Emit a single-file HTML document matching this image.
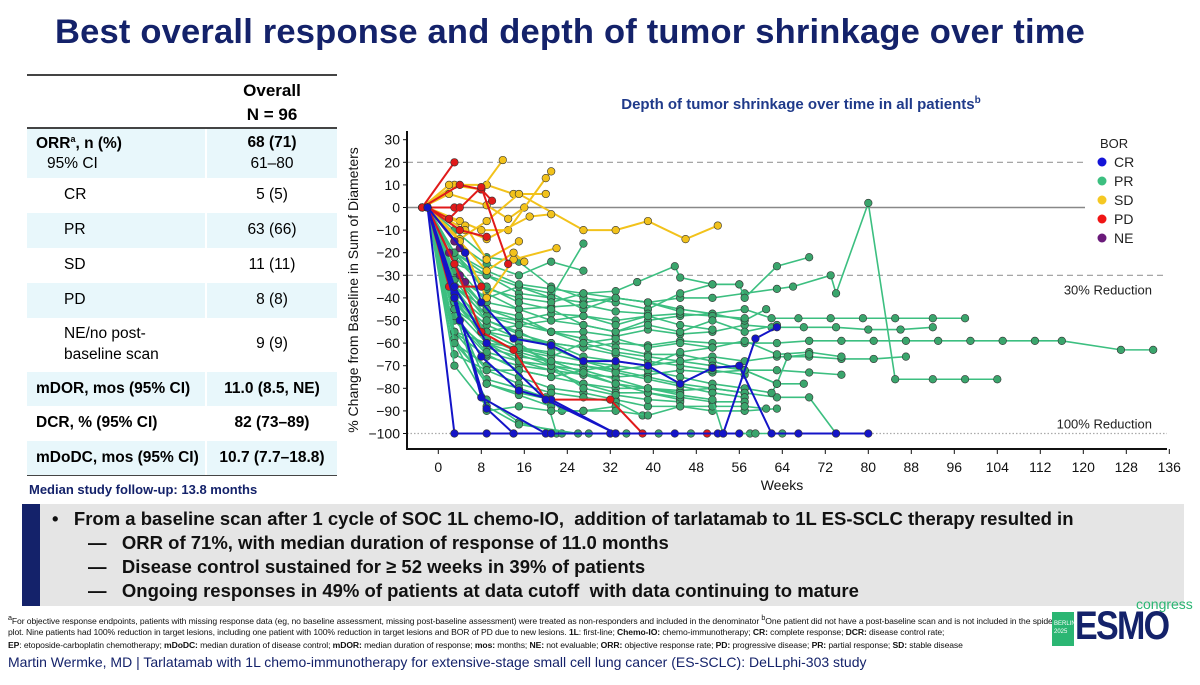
<!DOCTYPE html>
<html><head><meta charset="utf-8">
<style>
*{margin:0;padding:0;box-sizing:border-box}
body{width:1200px;height:685px;background:#fff;font-family:"Liberation Sans",sans-serif;position:relative;overflow:hidden}
.abs{position:absolute}
#title{left:0;width:1140px;top:13px;text-align:center;font-size:34.5px;font-weight:bold;color:#14226a;letter-spacing:0.2px}
#tbl td{padding:0}
.b{background:#e8f7fb}
.rowline{left:27px;width:310px;height:2px;background:#444}
#box{left:22px;top:504px;width:1162px;height:102px;background:#e5e5e5}
#navy{left:22px;top:504px;width:18px;height:102px;background:#14226a}
.bl{font-size:18.5px;font-weight:bold;color:#111;white-space:nowrap}
.fn{font-size:8.6px;color:#111;white-space:nowrap;letter-spacing:-0.1px;font-family:"Liberation Sans Narrow","Liberation Sans",sans-serif}
</style></head><body>
<div id="title" class="abs">Best overall response and depth of tumor shrinkage over time</div>

<div class="abs rowline" style="top:74px"></div>
<div class="abs rowline" style="top:127px"></div>
<div class="abs rowline" style="top:474px"></div>
<div class="abs" style="left:27px;top:76px;width:310px;height:51px;font-weight:bold;font-size:17px;text-align:center">
 <div style="position:absolute;left:180px;width:130px;top:3px;line-height:24px">Overall<br>N = 96</div>
</div>
<div class="abs" style="left:27px;top:129px;width:310px">
 <div class="b" style="position:relative;height:49px">
  <div style="position:absolute;left:9px;top:5px;font-weight:bold;font-size:15.5px">ORR<sup style="font-size:9px">a</sup>, n (%)</div>
  <div style="position:absolute;left:20px;top:26px;font-size:15.5px">95% CI</div>
  <div style="position:absolute;left:178px;width:2px;top:0;bottom:0;background:#fff"></div>
  <div style="position:absolute;left:180px;width:130px;top:5px;text-align:center;font-weight:bold;font-size:15.5px">68 (71)</div>
  <div style="position:absolute;left:180px;width:130px;top:26px;text-align:center;font-size:15.5px">61–80</div>
 </div>
 <div style="position:relative;height:35px"><div style="position:absolute;left:37px;top:8px;font-size:15.5px">CR</div><div style="position:absolute;left:180px;width:130px;top:8px;text-align:center;font-size:15.5px">5 (5)</div></div>
 <div class="b" style="position:relative;height:35px"><div style="position:absolute;left:37px;top:8px;font-size:15.5px">PR</div><div style="position:absolute;left:178px;width:2px;top:0;bottom:0;background:#fff"></div><div style="position:absolute;left:180px;width:130px;top:8px;text-align:center;font-size:15.5px">63 (66)</div></div>
 <div style="position:relative;height:35px"><div style="position:absolute;left:37px;top:8px;font-size:15.5px">SD</div><div style="position:absolute;left:180px;width:130px;top:8px;text-align:center;font-size:15.5px">11 (11)</div></div>
 <div class="b" style="position:relative;height:35px"><div style="position:absolute;left:37px;top:8px;font-size:15.5px">PD</div><div style="position:absolute;left:178px;width:2px;top:0;bottom:0;background:#fff"></div><div style="position:absolute;left:180px;width:130px;top:8px;text-align:center;font-size:15.5px">8 (8)</div></div>
 <div style="position:relative;height:54px"><div style="position:absolute;left:37px;top:5px;font-size:15.5px;line-height:21px">NE/no post-<br>baseline scan</div><div style="position:absolute;left:180px;width:130px;top:17px;text-align:center;font-size:15.5px">9 (9)</div></div>
 <div class="b" style="position:relative;height:34px"><div style="position:absolute;left:9px;top:8px;font-weight:bold;font-size:15.5px">mDOR, mos (95% CI)</div><div style="position:absolute;left:178px;width:2px;top:0;bottom:0;background:#fff"></div><div style="position:absolute;left:180px;width:130px;top:8px;text-align:center;font-weight:bold;font-size:15.5px">11.0 (8.5, NE)</div></div>
 <div style="position:relative;height:35px"><div style="position:absolute;left:9px;top:8px;font-weight:bold;font-size:15.5px">DCR, % (95% CI)</div><div style="position:absolute;left:180px;width:130px;top:8px;text-align:center;font-weight:bold;font-size:15.5px">82 (73–89)</div></div>
 <div class="b" style="position:relative;height:34px"><div style="position:absolute;left:9px;top:8px;font-weight:bold;font-size:15.5px">mDoDC, mos (95% CI)</div><div style="position:absolute;left:178px;width:2px;top:0;bottom:0;background:#fff"></div><div style="position:absolute;left:180px;width:130px;top:8px;text-align:center;font-weight:bold;font-size:15.5px;white-space:nowrap">10.7 (7.7–18.8)</div></div>
</div>
<div class="abs" style="left:29px;top:482px;font-size:13px;font-weight:bold;color:#14226a">Median study follow-up: 13.8 months</div>

<svg class="abs" style="left:0;top:0" width="1200" height="500">
 <text x="801" y="109" text-anchor="middle" font-size="15" font-weight="bold" fill="#1f3a8a" font-family="Liberation Sans">Depth of tumor shrinkage over time in all patients<tspan font-size="10" dy="-6">b</tspan></text>
 <g id="grid"></g>
 <g id="series"></g>
 <g id="axes"></g>
</svg>

<div id="box" class="abs"></div>
<div id="navy" class="abs"></div>
<div class="abs bl" style="left:52px;top:508px">•&nbsp;&nbsp; From a baseline scan after 1 cycle of SOC 1L chemo-IO,&nbsp; addition of tarlatamab to 1L ES-SCLC therapy resulted in</div>
<div class="abs bl" style="left:88px;top:532px">—&nbsp;&nbsp; ORR of 71%, with median duration of response of 11.0 months</div>
<div class="abs bl" style="left:88px;top:556px">—&nbsp;&nbsp; Disease control sustained for ≥ 52 weeks in 39% of patients</div>
<div class="abs bl" style="left:88px;top:580px">—&nbsp;&nbsp; Ongoing responses in 49% of patients at data cutoff&nbsp; with data continuing to mature</div>

<div class="abs fn" style="left:8px;top:614px"><sup>a</sup>For objective response endpoints, patients with missing response data (eg, no baseline assessment, missing post-baseline assessment) were treated as non-responders and included in the denominator <sup>b</sup>One patient did not have a post-baseline scan and is not included in the spider</div>
<div class="abs fn" style="left:8px;top:627px">plot. Nine patients had 100% reduction in target lesions, including one patient with 100% reduction in target lesions and BOR of PD due to new lesions. <b>1L</b>: first-line; <b>Chemo-IO:</b> chemo-immunotherapy; <b>CR:</b> complete response; <b>DCR:</b> disease control rate;</div>
<div class="abs fn" style="left:8px;top:640px"><b>EP</b>: etoposide-carboplatin chemotherapy; <b>mDoDC:</b> median duration of disease control; <b>mDOR:</b> median duration of response; <b>mos:</b> months; <b>NE:</b> not evaluable; <b>ORR:</b> objective response rate; <b>PD:</b> progressive disease; <b>PR:</b> partial response; <b>SD:</b> stable disease</div>
<div class="abs" style="left:8px;top:654px;font-size:14px;color:#14226a;white-space:nowrap">Martin Wermke, MD | Tarlatamab with 1L chemo-immunotherapy for extensive-stage small cell lung cancer (ES-SCLC): DeLLphi-303 study</div>
<div class="abs" style="left:1052px;top:612px;width:22px;height:34px;background:#2bb673;color:#fff;font-size:6px;line-height:8px;padding-top:8px;padding-left:2px">BERLIN<br>2025</div>
<div class="abs" style="left:1075px;top:604px;font-size:40px;font-weight:bold;color:#14226a;letter-spacing:-2px;transform:scaleX(0.85);transform-origin:left">ESMO</div>
<div class="abs" style="left:1136px;top:596px;font-size:14px;color:#2bb673">congress</div>

<script>
const xTicks=[0,8,16,24,32,40,48,56,64,72,80,88,96,104,112,120,128,136];
const yTicks=[30,20,10,0,-10,-20,-30,-40,-50,-60,-70,-80,-90,-100];
const legendCats=["CR","PR","SD","PD","NE"];
const green=[
[[-2,0],[3,-20],[9,-38],[15,-45],[21,-50],[27,-52],[33,-55],[39,-50],[45,-48],[51,-47],[57,-45],[62,-49],[67,-49],[73,-49],[79,-49],[85,-49],[92,-49],[98,-49]],
[[-2,0],[3,-35],[9,-48],[15,-52],[21,-55],[27,-55],[33,-57],[39,-54],[45,-56],[51,-55],[57,-52],[62,-53],[68,-53],[74,-53],[80,-54],[86,-54],[92,-53]],
[[-2,0],[3,-45],[9,-55],[15,-58],[21,-60],[27,-62],[33,-60],[39,-61],[45,-59],[51,-60],[57,-60],[63,-60],[69,-59],[75,-59],[81,-59],[87,-59],[93,-59],[99,-59],[105,-59],[111,-59],[116,-59],[127,-63],[133,-63]],
[[-2,0],[3,-25],[9,-30],[15,-35],[21,-38],[27,-45],[33,-40],[39,-42],[45,-40],[51,-40],[57,-38],[63,-36],[66,-35],[73,-30],[74,-38],[80,2],[85,-76],[92,-76],[98,-76],[104,-76]],
[[-2,0],[3,-50],[9,-62],[15,-66],[21,-68],[27,-70],[33,-72],[39,-70],[45,-68],[51,-66],[57,-68],[63,-66],[69,-66],[75,-67],[81,-67],[87,-66]],
[[-2,0],[3,-55],[9,-66],[15,-70],[21,-72],[27,-74],[33,-75],[39,-74],[45,-72],[51,-73],[57,-72],[63,-72],[69,-73],[75,-74]],
[[-2,0],[3,-40],[9,-60],[15,-68],[21,-72],[27,-78],[33,-80],[39,-80],[45,-81],[51,-80],[57,-82],[63,-84],[69,-84],[74,-100]],
[[-2,0],[3,-30],[9,-45],[15,-50],[21,-55],[27,-58],[33,-62],[39,-65],[45,-65],[51,-68],[57,-72],[63,-78],[68,-78]],
[[-2,0],[3,-60],[9,-70],[15,-75],[21,-80],[27,-82],[33,-85],[39,-88],[45,-88],[51,-90],[57,-90],[63,-89]],
[[-2,0],[3,-35],[9,-55],[15,-62],[21,-65],[27,-68],[33,-70],[39,-72],[45,-75],[51,-78],[57,-80],[62,-82],[63,-78]],
[[-2,0],[3,-20],[9,-30],[15,-38],[21,-40],[27,-42],[33,-40],[39,-42],[45,-45],[51,-47],[57,-50],[61,-45]],
[[-2,0],[3,-10],[9,-22],[15,-24],[21,-35],[27,-40],[33,-42],[39,-45],[45,-38],[51,-34],[56,-34],[57,-40],[63,-26],[69,-22]],
[[-2,0],[3,-15],[9,-25],[15,-30],[21,-24],[27,-28]],
[[-2,0],[3,-30],[9,-40],[15,-35],[21,-40],[27,-16]],
[[-2,0],[3,-45],[9,-60],[15,-65],[21,-70],[27,-72],[33,-76],[39,-80],[45,-82]],
[[-2,0],[3,-50],[9,-65],[15,-72],[21,-75],[27,-78],[33,-82],[39,-82],[45,-85]],
[[-2,0],[3,-40],[9,-52],[15,-58],[21,-60],[27,-62],[33,-65],[39,-68],[45,-70],[51,-72],[57,-74]],
[[-2,0],[3,-38],[9,-50],[15,-55],[21,-62],[27,-68],[33,-72],[39,-75],[45,-78],[51,-80],[57,-82]],
[[-2,0],[3,-42],[9,-58],[15,-64],[21,-68],[27,-70],[33,-73],[39,-76],[45,-79],[51,-82],[57,-84]],
[[-2,0],[3,-30],[9,-48],[15,-50],[21,-47],[27,-48],[33,-50],[39,-48],[45,-47],[51,-48],[57,-49]],
[[-2,0],[3,-25],[9,-42],[15,-45],[21,-44],[27,-43],[33,-46],[39,-47]],
[[-2,0],[3,-22],[9,-36],[15,-40],[21,-42],[27,-38],[33,-37],[37,-33],[44,-26],[45,-31],[51,-34],[56,-34]],
[[-2,0],[3,-28],[9,-45],[15,-60],[21,-70],[27,-80],[33,-83],[39,-85],[45,-86]],
[[-2,0],[3,-55],[9,-72],[15,-78],[21,-82],[27,-84],[33,-86],[38,-92]],
[[-2,0],[3,-60],[9,-76],[15,-80],[20,-84],[22,-100],[28,-100]],
[[-2,0],[3,-45],[9,-78],[15,-82],[21,-85],[23,-90],[27,-90],[33,-88]],
[[-2,0],[3,-32],[9,-50],[15,-56],[21,-60],[27,-66],[33,-68],[39,-70],[45,-64],[51,-62],[57,-59],[63,-65],[69,-64],[75,-66]],
[[-2,0],[3,-36],[9,-58],[15,-63],[21,-66],[27,-60],[33,-58],[39,-62],[45,-60],[51,-62]],
[[-2,0],[3,-48],[9,-64],[15,-68],[21,-70],[27,-74],[33,-78],[39,-82],[45,-84],[51,-86],[57,-86]],
[[-2,0],[3,-20],[9,-35],[15,-42],[21,-45],[27,-52],[33,-55],[39,-52],[45,-55],[51,-50],[57,-55],[63,-52]],
[[-2,0],[3,-42],[9,-55],[15,-52],[21,-50],[27,-48],[33,-52],[39,-48],[45,-52],[51,-54]],
[[-2,0],[3,-65],[9,-72],[15,-72],[21,-75],[27,-72],[33,-70]],
[[-2,0],[3,-35],[9,-45],[15,-48],[21,-55],[27,-60],[33,-64],[39,-66],[45,-68],[51,-70],[57,-72],[63,-78],[65,-66],[69,-65]],
[[-2,0],[3,-20],[9,-28],[15,-34],[21,-36],[27,-38],[33,-40],[39,-42],[45,-46]],
[[-2,0],[3,-55],[9,-60],[15,-62],[21,-64]],
[[-2,0],[3,-58],[9,-78],[15,-83],[21,-88]],
[[-2,0],[3,-45],[9,-90],[15,-88],[21,-90],[27,-90],[33,-90],[39,-92],[45,-88],[51,-88],[57,-88],[61,-89]],
[[-2,0],[3,-40],[9,-55],[15,-62],[21,-68],[27,-73],[33,-78],[39,-80],[45,-83],[51,-85],[53,-100],[58,-100]],
[[-2,0],[3,-60],[9,-85],[15,-95],[23,-100],[35,-100],[41,-100],[47,-100]],
[[-2,0],[3,-70],[9,-88],[15,-96],[26,-100],[59,-100],[64,-100]]
];
const yellow=[
[[-3,0],[3,10],[9,10],[14,6],[20,6]],
[[-3,0],[2,6],[9,1],[13,-5],[16,0]],
[[-3,0],[2,10],[8,8],[12,21]],
[[-2,0],[4,-6],[8,-10],[13,-10],[20,13],[21,16]],
[[-2,0],[5,-8],[9,-23],[15,-15]],
[[-2,0],[4,-14],[9,-6],[15,6],[27,-10],[33,-10],[39,-6],[46,-14],[52,-8]],
[[-2,0],[5,-20],[9,-40],[14,-23],[22,-18]],
[[-2,0],[4,-15],[9,-28],[14,-20],[16,-24]],
[[-2,0],[5,-10],[9,-14],[17,-4],[21,-3]]
];
const red=[
[[-3,0],[3,20]],
[[-3,0],[4,10],[8,8],[10,3]],
[[-3,0],[3,0],[4,0]],
[[-2,0],[4,-10],[9,-13]],
[[-2,0],[2,-5],[8,9],[13,-25]],
[[-2,0],[2,-35],[8,-35]],
[[-2,0],[3,-25],[8,-55],[14,-63],[20,-85],[32,-85],[38,-100],[50,-100]]
];
const blue=[
[[-2,0],[3,-100],[9,-100],[14,-100],[20,-100],[32,-100],[44,-100],[56,-100]],
[[-2,0],[3,-38],[8,-84],[20,-100],[32,-100]],
[[-2,0],[4,-50],[8,-66],[15,-81],[21,-85],[33,-100]],
[[-2,0],[5,-20],[8,-42],[14,-58],[21,-61],[27,-68],[33,-68],[39,-70],[45,-78],[51,-71],[56,-70],[62,-100],[67,-100],[74,-100],[80,-100]],
[[-2,0],[3,-40],[9,-89],[14,-100],[21,-100]],
[[-2,0],[3,-35],[9,-60],[20,-85],[33,-100],[52,-100],[53,-100],[59,-58],[63,-53]]
];
const purple=[
[[-2,0],[3,-15],[4,-18]],
[[-2,0],[2,-20],[4,-30]],
[[-2,0],[3,-25],[5,-33]]
];
const NS="http://www.w3.org/2000/svg";
const X=w=>438.3+5.375*w;
const Y=v=>207.5-2.26*v;
function mk(tag,attrs,parent){const e=document.createElementNS(NS,tag);for(const k in attrs)e.setAttribute(k,attrs[k]);parent.appendChild(e);return e;}
const grid=document.getElementById('grid'),ser=document.getElementById('series'),ax=document.getElementById('axes');
let g;
g=mk('line',{x1:407,x2:1085,y1:Y(20),y2:Y(20),stroke:'#999','stroke-dasharray':'6,4','stroke-width':1.2},grid);


g=mk('line',{x1:407,x2:1085,y1:Y(0),y2:Y(0),stroke:'#888','stroke-width':1.5},grid);


g=mk('line',{x1:407,x2:1167,y1:Y(-30),y2:Y(-30),stroke:'#999','stroke-dasharray':'6,4','stroke-width':1.2},grid);


g=mk('line',{x1:407,x2:1167,y1:Y(-100),y2:Y(-100),stroke:'#aaa','stroke-dasharray':'1.5,2','stroke-width':1.2},grid);


g=mk('text',{x:1152,y:Y(-30)+19,'text-anchor':'end','font-size':13,fill:'#222','font-family':'Liberation Sans'},grid);g.textContent='30% Reduction';


g=mk('text',{x:1152,y:Y(-100)-5,'text-anchor':'end','font-size':13,fill:'#222','font-family':'Liberation Sans'},grid);g.textContent='100% Reduction';



function drawGroup(data,line,fill,name){
 data.forEach((p,i)=>{
  const pl=mk('polyline',{points:p.map(d=>X(d[0])+','+Y(d[1])).join(' '),fill:'none',stroke:line,'stroke-width':name==='pr'?1.6:2},ser);
  
  
  p.forEach(d=>{
   const c=mk('circle',{cx:X(d[0]),cy:Y(d[1]),r:3.8,fill:fill,stroke:'#333','stroke-width':0.6},ser);
   
   
  });
 });
}
drawGroup(green,'#3cbf80','#3aa56c','pr');
drawGroup(yellow,'#f2c21b','#f2c21b','sd');
drawGroup(purple,'#6a1a7a','#6a1a7a','ne');
drawGroup(red,'#e01a1a','#e01a1a','pd');
drawGroup(blue,'#1414c8','#1414c8','cr');

g=mk('line',{x1:407,x2:407,y1:131,y2:450,stroke:'#111','stroke-width':2},ax);


g=mk('line',{x1:406,x2:1167,y1:449,y2:449,stroke:'#111','stroke-width':2},ax);


yTicks.forEach(v=>{
 mk('line',{x1:403,x2:407,y1:Y(v),y2:Y(v),stroke:'#111'},ax);
 const t=mk('text',{x:400,y:Y(v)+5,'text-anchor':'end','font-size':14,fill:'#111','font-family':'Liberation Sans'},ax);
 t.textContent=v<0?'\u2212'+(-v):String(v);
 
 
});
xTicks.forEach(w=>{
 mk('line',{x1:X(w),x2:X(w),y1:449,y2:454,stroke:'#111'},ax);
 const t=mk('text',{x:X(w),y:472,'text-anchor':'middle','font-size':14,fill:'#111','font-family':'Liberation Sans'},ax);
 t.textContent=String(w);
 
 
});
g=mk('text',{x:782,y:490,'text-anchor':'middle','font-size':14,fill:'#111','font-family':'Liberation Sans'},ax);g.textContent='Weeks';


g=mk('text',{x:0,y:0,'text-anchor':'middle','font-size':14,fill:'#111','font-family':'Liberation Sans',transform:'translate(358,290) rotate(-90)'},ax);g.textContent='% Change from Baseline in Sum of Diameters';


g=mk('text',{x:1100,y:148,'font-size':13,fill:'#222','font-family':'Liberation Sans'},ax);g.textContent='BOR';


const legCol=['#1414d8','#3cbf80','#f5c823','#f01515','#6a1a7a'];
legendCats.forEach((c,i)=>{
 const yy=162+i*19;
 const d=mk('circle',{cx:1102,cy:yy,r:4.5,fill:legCol[i]},ax);
 
 
 const t=mk('text',{x:1114,y:yy+5,'font-size':14,fill:'#222','font-family':'Liberation Sans'},ax);t.textContent=c;
 
 
});
</script>
</body></html>
